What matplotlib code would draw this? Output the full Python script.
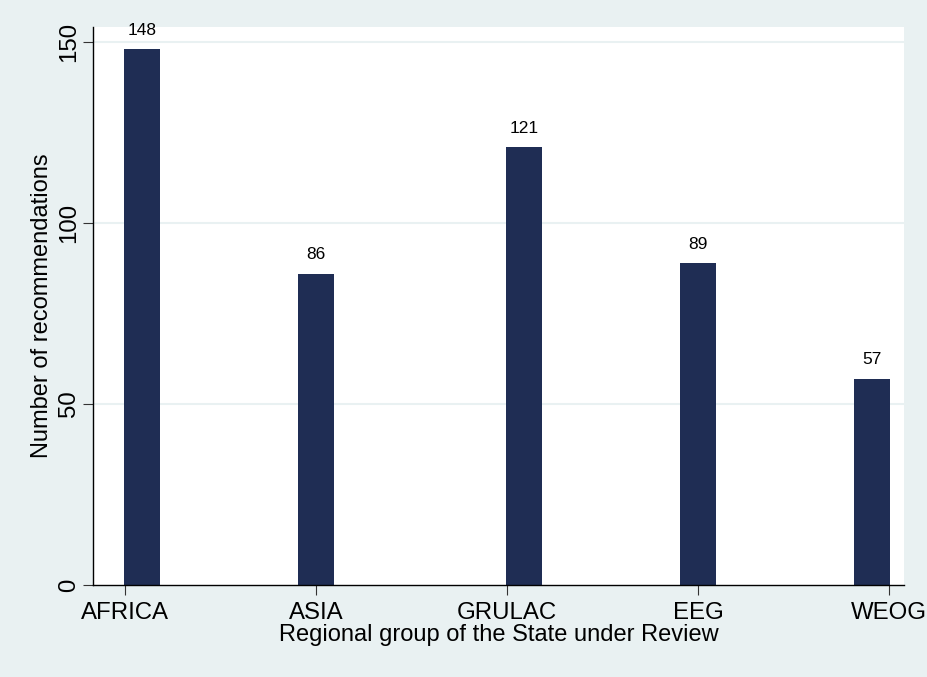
import matplotlib
matplotlib.use("Agg")
import matplotlib.pyplot as plt

categories = ["AFRICA", "ASIA", "GRULAC", "EEG", "WEOG"]
values = [148, 86, 121, 89, 57]
yticks = [0, 50, 100, 150]

plt.rcParams['font.family'] = ['Liberation Sans', 'DejaVu Sans']

W, H = 928, 677
fig = plt.figure(figsize=(W / 100, H / 100), dpi=100)
bg = "#E9F1F2"
fig.patch.set_facecolor(bg)
left, right, top, bottom = 93, 904, 27, 585
ax = fig.add_axes([left / W, 1 - bottom / H, (right - left) / W, (bottom - top) / H])
ax.set_facecolor("white")

ticks_x = list(range(1, len(categories) + 1))
offsets = [0.089, 0.0, 0.089, 0.0, -0.089]  # layout: bar shift vs tick
bar_x = [t + o for t, o in zip(ticks_x, offsets)]

ax.set_xlim(0.832, 5.079)
ax.set_ylim(0, 154.1)

for y in yticks[1:]:
    ax.axhline(y, color=bg, lw=1.5, zorder=0)

bars = ax.bar(bar_x, values, width=0.19, color="#1f2d54", zorder=2)
for x, v in zip(bar_x, values):
    ax.annotate(str(v), (x, v), xytext=(0, 8), textcoords="offset points",
                ha="center", va="bottom", fontsize=12.5)

ax.set_xticks(ticks_x)
ax.set_xticklabels(categories, fontsize=17.3)
ax.set_yticks(yticks)
ax.set_yticklabels([str(t) for t in yticks], fontsize=17.3, rotation=90, va="center")
ax.tick_params(axis="x", direction="out", length=7, width=0.8, color="#333333", pad=5)
ax.tick_params(axis="y", direction="out", length=7, width=0.8, color="#333333", pad=2)

for s in ["top", "right"]:
    ax.spines[s].set_visible(False)
for s in ["left", "bottom"]:
    ax.spines[s].set_color("black")
    ax.spines[s].set_linewidth(1.0)

ax.set_xlabel("Regional group of the State under Review", fontsize=17, labelpad=0)
ax.set_ylabel("Number of recommendations", fontsize=17, labelpad=4)

fig.savefig("out.png", dpi=100, facecolor=fig.get_facecolor())
